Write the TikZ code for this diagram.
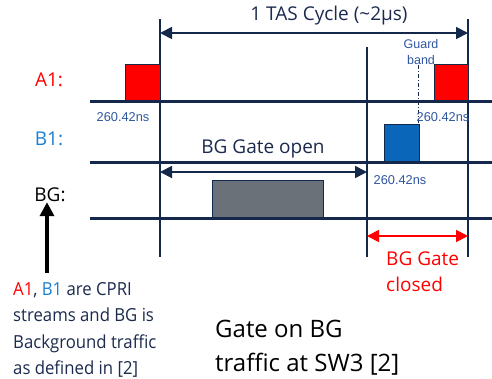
\documentclass[tikz,border=0pt]{standalone}
\usepackage{fontspec}
\setmainfont{Open Sans}
\newfontfamily\arialfont{Liberation Sans}
\newfontfamily\narrowfont[FakeStretch=0.93]{Open Sans}
\usetikzlibrary{arrows.meta}
\definecolor{navy}{HTML}{14284B}
\definecolor{redA}{HTML}{FF0000}
\definecolor{blueB}{HTML}{0A66B8}
\definecolor{blueL}{HTML}{1A7FD0}
\definecolor{blueT}{HTML}{2E55A0}
\definecolor{grayBG}{HTML}{6B7179}
\definecolor{txtnavy}{HTML}{1B2A4E}
\tikzset{
  baseln/.style={navy, line width=3pt},
  vline/.style={navy, line width=1.6pt},
  dimarrow/.style={navy, line width=1.8pt, {Triangle[length=12pt,width=12pt]}-{Triangle[length=12pt,width=12pt]}},
  pkt/.style={draw=navy, line width=1.2pt, inner sep=0pt, anchor=south west},
  rowlabel/.style={font=\fontsize{19}{22}\selectfont, inner sep=0pt},
  nslabel/.style={font=\arialfont\fontsize{12.8}{15}\selectfont, text=blueT, inner sep=0pt},
}
\begin{document}
\begin{tikzpicture}[x=1pt, y=-1pt]
\useasboundingbox (0,0) rectangle (492,378);
% coordinates
\coordinate (v1t) at (160,19); \coordinate (v1b) at (160,257);
\coordinate (v3t) at (468,19); \coordinate (v3b) at (468,257);
\coordinate (v2t) at (367,47); \coordinate (v2b) at (367,257);
\coordinate (aL) at (90,101); \coordinate (aR) at (492,101);
\coordinate (bL) at (90,162); \coordinate (bR) at (492,162);
\coordinate (gL) at (90,218); \coordinate (gR) at (492,218);
% vertical lines
\draw[vline] (v1t) -- (v1b);
\draw[vline] (v3t) -- (v3b);
\draw[vline] (v2t) -- (v2b);
% guard band dash-dot
\coordinate (gbt) at (418,65); \coordinate (gbb) at (418,158);
\draw[navy, line width=0.8pt, dash pattern=on 4pt off 2pt on 1pt off 2pt] (gbt) -- (gbb);
% packets
\node[pkt, fill=redA, minimum width=35pt, minimum height=36pt] (a1p) at (125,101) {};
\node[pkt, fill=redA, minimum width=34pt, minimum height=36pt] (a1q) at (434,101) {};
\node[pkt, fill=blueB, minimum width=35pt, minimum height=37pt] (b1p) at (384,162) {};
\node[pkt, fill=grayBG, minimum width=111pt, minimum height=37pt] (bgp) at (212,218) {};
% baselines
\draw[baseln] (aL) -- (aR);
\draw[baseln] (bL) -- (bR);
\draw[baseln] (gL) -- (gR);
% TAS cycle arrow
\coordinate (tasL) at (160,33); \coordinate (tasR) at (468,33);
\draw[dimarrow] (tasL) -- (tasR);
\node[font=\fontsize{19}{22}\selectfont, text=txtnavy, inner sep=0pt] (tas) at (329,16) {1 TAS Cycle (\textasciitilde2\textmu s)};
% BG gate open
\coordinate (goL) at (160,172); \coordinate (goR) at (367,172);
\draw[dimarrow] (goL) -- (goR);
\node[font=\fontsize{19}{22}\selectfont, text=txtnavy, inner sep=0pt] (gopen) at (263,149) {BG Gate open};
% BG gate closed
\coordinate (gcL) at (367,236); \coordinate (gcR) at (468,236);
\draw[redA, line width=1.8pt, {Triangle[length=12pt,width=12pt]}-{Triangle[length=12pt,width=12pt]}] (gcL) -- (gcR);
\node[font=\fontsize{19}{26}\selectfont, text=redA, inner sep=0pt, align=left, anchor=west] (gclosed) at (386,272) {BG Gate\\closed};
% row labels
\node[rowlabel, text=redA] (la1) at (49,80) {A1:};
\node[rowlabel, text=blueL] (lb1) at (49,139) {B1:};
\node[rowlabel, text=black] (lbg) at (50,195) {BG:};
% ns labels
\node[nslabel] (ns1) at (123,117) {260.42ns};
\node[nslabel] (ns2) at (443,117) {260.42ns};
\node[nslabel] (ns3) at (400,180) {260.42ns};
\node[font=\arialfont\fontsize{12.5}{16}\selectfont, text=blueT, inner sep=0pt, align=center] (guard) at (421,52) {Guard\\band};
% black arrow
\coordinate (arB) at (47,273);
\draw[black, line width=4pt, -{Triangle[length=14pt,width=14pt]}] (arB) -- (lbg.south -| arB);
% description
\node[font=\narrowfont\fontsize{18}{26.3}\selectfont, text=txtnavy, inner sep=0pt, align=left, anchor=west] (desc) at (13,330)
 {\textcolor{redA}{A1}, \textcolor{blueL}{B1} are CPRI\\streams and BG is\\Background traffic\\as defined in [2]};
\node[font=\fontsize{24}{34}\selectfont, text=black, inner sep=0pt, align=left, anchor=west] (title) at (215,348)
 {Gate on BG\\traffic at SW3 [2]};
\end{tikzpicture}
\end{document}
